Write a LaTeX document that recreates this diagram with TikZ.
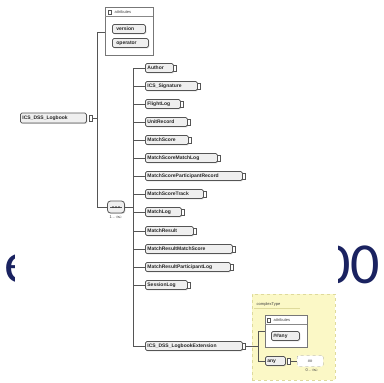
\documentclass[tikz,border=0pt]{standalone}
\usepackage{fontspec}
\setsansfont{Liberation Sans}
\newfontfamily\bigfont{Carlito}
\usetikzlibrary{shadows}
\definecolor{navy}{HTML}{1A2260}
\definecolor{boxline}{HTML}{555555}
\definecolor{boxfill}{HTML}{EFEFEF}
\definecolor{ylw}{HTML}{FBF8C6}
\tikzset{
  elem/.style={draw=boxline, fill=boxfill, rounded corners=1.5pt, line width=0.8pt,
    minimum height=9pt, text height=3.7pt, text depth=1.1pt, inner xsep=2pt, inner ysep=1pt, anchor=west,
    font=\sffamily\bfseries\fontsize{5}{5.5}\selectfont, text=black!85,
    drop shadow={shadow xshift=0.9pt, shadow yshift=-0.9pt, fill=gray!55}},
  grp/.style={draw=boxline!80, fill=white, line width=0.5pt,
    drop shadow={shadow xshift=1.2pt, shadow yshift=-1.2pt, fill=gray!40}},
  conn/.style={draw=boxline, line width=0.7pt},
  icon/.style={draw=boxline, fill=white, line width=0.5pt, minimum width=3pt, minimum height=6pt, inner sep=0pt},
  small/.style={font=\sffamily\fontsize{4}{4.5}\selectfont, text=black!75, inner sep=0.5pt},
  bigtext/.style={font=\bigfont\fontsize{58}{60}\selectfont, text=navy, inner sep=0pt}
}
\newcommand{\elemtext}[2]{\makebox[#1][l]{#2}}
\begin{document}
\begin{tikzpicture}[x=1pt,y=-1pt]
\useasboundingbox (0,0) rectangle (384,383);
% background slide text, partly covered by the diagram
\node[bigtext, anchor=base west] (bgE) at (4,282) {e};
\node[bigtext, anchor=base east] (bgZ) at (380,283) {00};
\fill[white] (15,0) rectangle (338,383);

% root element
\node[elem, minimum height=10pt] (root) at (20,118) {\elemtext{62pt}{ICS\_DSS\_Logbook}};
\node[icon] (rooticon) at (91,118) {};
\coordinate (trunkTop) at (97,32);
\coordinate (trunkMid) at (97,118);
\coordinate (trunkBot) at (97,207);
\draw[conn] (rooticon.east) -- (trunkMid);
\draw[conn] (trunkTop) -- (trunkBot);

% attributes group
\node[grp, minimum width=48pt, minimum height=48pt, anchor=north west] (attgrp) at (105,7) {};
\node[icon, minimum width=3pt, minimum height=4pt] (atticon) at (110,12) {};
\node[small, anchor=west] (atttitle) at (114,12) {attributes};
\draw[boxline!70, line width=0.3pt] (105,16) -- (153,16);
\node[elem] (ver) at (112,29) {\elemtext{29pt}{\hspace*{2pt}version}};
\node[elem] (op) at (112,43) {\elemtext{32pt}{\hspace*{2pt}operator}};
\draw[conn] (trunkTop) -- (attgrp.west |- trunkTop);

% sequence node
\node[draw=boxline, fill=boxfill, rounded corners=3pt, line width=0.8pt, minimum width=17pt, minimum height=12pt,
  drop shadow={shadow xshift=0.9pt, shadow yshift=-0.9pt, fill=gray!55}] (seq) at (116,207) {};
\draw[boxline, line width=0.5pt] ([xshift=3pt]seq.west) -- ([xshift=-3pt]seq.east);
\foreach \dx in {-3,0,3} \fill[black!75] ([xshift=\dx pt]seq.center) circle (1pt);
\node[small, anchor=north] (seqlab) at (116,215) {1\,..\,$\infty$};
\draw[conn] (trunkBot) -- (seq.west);
\coordinate (spineMid) at (133,207);
\draw[conn] (seq.east) -- (spineMid);

% child elements
\foreach \t/\y/\r [count=\i] in {
  Author/68/178,
  ICS\_Signature/86/202,
  FlightLog/104/185,
  UnitRecord/122/192,
  MatchScore/140/193,
  MatchScoreMatchLog/158/222,
  MatchScoreParticipantRecord/176/247,
  MatchScoreTrack/194/208,
  MatchLog/212/186,
  MatchResult/231/198,
  MatchResultMatchScore/249/237,
  MatchResultParticipantLog/267/235,
  SessionLog/285/192,
  ICS\_DSS\_LogbookExtension/346/247} {
  \pgfmathsetmacro{\w}{\r-154}
  \node[elem] (e\i) at (145,\y) {\elemtext{\w pt}{\t}};
  \node[icon] (ic\i) at ({\r-3},\y) {};
  \coordinate (v\i) at (133,\y);
  \draw[conn] (v\i) -- (e\i.west);
}
\draw[conn] (v1) -- (v14);

% extension type box
\node[draw=yellow!50!gray!60, fill=ylw, line width=0.4pt, dashed, minimum width=83pt, minimum height=86pt, anchor=north west] (ext) at (252,294) {};
\node[small, anchor=west] (exttitle) at (256,304) {complexType};
\draw[yellow!50!gray!60, line width=0.3pt] (254,308) -- (300,308);
\node[grp, minimum width=42pt, minimum height=32pt, anchor=north west] (eatt) at (265,315) {};
\node[icon, minimum width=3pt, minimum height=4pt] (eatticon) at (269,320) {};
\node[small, anchor=west] (eatttitle) at (273,320) {attributes};
\draw[boxline!70, line width=0.3pt] (265,324) -- (307,324);
\node[elem] (anyatt) at (271,336) {\elemtext{24pt}{\#\#any}};
\node[elem] (anyel) at (265,361) {\elemtext{16pt}{any}};
\node[icon] (anyicon) at (289,361) {};
\node[draw=boxline!60, fill=white, dashed, rounded corners=1.5pt, line width=0.4pt, minimum width=26pt, minimum height=11pt, anchor=west, small] (anyother) at (297,361) {\#\#};
\node[small, anchor=north] (anylab) at (312,368) {0\,..\,$\infty$};
\coordinate (ej) at (258,346);
\coordinate (ejTop) at (258,331);
\coordinate (ejBot) at (258,361);
\draw[conn] (ic14.east) -- (ej);
\draw[conn] (ejTop) -- (ejBot);
\draw[conn] (ejTop) -- (eatt.west |- ejTop);
\draw[conn] (ejBot) -- (anyel.west);
\draw[conn] (anyicon.east) -- (anyother.west);
\end{tikzpicture}
\end{document}
